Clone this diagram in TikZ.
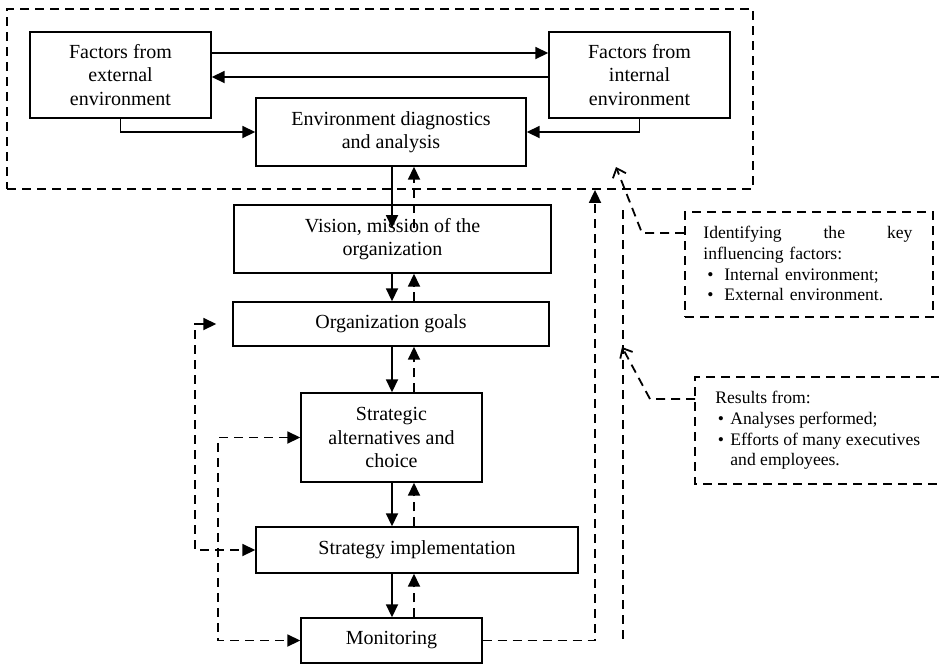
\documentclass[tikz,border=0pt]{standalone}
\usepackage{fontspec}
\setmainfont{Liberation Serif}
\usetikzlibrary{arrows.meta}
\begin{document}
\begin{tikzpicture}[x=0.5pt,y=-0.5pt,
 box/.style={draw,line width=0.7pt,align=center,inner sep=0pt,font=\fontsize{10}{11.75}\selectfont},
 sarr/.style={line width=0.9pt,-{Triangle[length=6.5pt,width=6pt]}},
 darr/.style={line width=0.9pt,dash pattern=on 4.5pt off 3pt,-{Triangle[length=6.5pt,width=6pt]}},
 dline/.style={line width=0.9pt,dash pattern=on 4.5pt off 3pt},
 barb/.style={dline,-{Straight Barb[length=4pt,width=7pt]}},
 note/.style={inner sep=0pt,anchor=north west,align=left,font=\fontsize{8.8}{10.35}\selectfont}]
\useasboundingbox (0,0) rectangle (939,665);

% outer dashed frame
\node[draw,dline,minimum width=373pt,minimum height=90pt,inner sep=0pt] (outer) at (380,99) {};

% main boxes
\node[box,minimum width=90.5pt,minimum height=43pt] (ext) at (120.5,75) {Factors from\\external\\environment};
\node[box,minimum width=90.5pt,minimum height=43pt] (int) at (639.5,75) {Factors from\\internal\\environment};
\node[box,minimum width=135pt,minimum height=34pt] (env) at (391,132) {Environment diagnostics\\and analysis};
\node[box,minimum width=158.5pt,minimum height=34pt] (vis) at (392.5,239) {Vision, mission of the\\organization};
\node[box,minimum width=158pt,minimum height=22pt] (goals) at (391,324) {Organization goals};
\node[box,minimum width=90.5pt,minimum height=44.5pt] (alt) at (391.5,437.5) {Strategic\\alternatives and\\choice};
\node[box,minimum width=161pt,minimum height=23pt] (impl) at (417,550) {Strategy implementation};
\node[box,minimum width=90.5pt,minimum height=22.5pt] (mon) at (391.5,640.5) {Monitoring};

% note boxes
\node[draw,dline,minimum width=124pt,minimum height=52.5pt,inner sep=0pt] (ident) at (809,264.5) {};
\node[note,text width=104.5pt] (identtxt) at (703,226)
 {\makebox[104.5pt]{Identifying\hfill the\hfill key}\\influencing factors:\\\makebox[10.5pt][l]{\hspace{2pt}\textbullet}Internal environment;\\\makebox[10.5pt][l]{\hspace{2pt}\textbullet}External environment.};
\draw[dline] (940,377) -- (695,377) -- (695,484) -- (940,484);
\coordinate (resw) at (695,399);
\node[note] (restxt) at (715,391)
 {Results from:\\\makebox[7.5pt][l]{\hspace{1.2pt}\textbullet}Analyses performed;\\\makebox[7.5pt][l]{\hspace{1.2pt}\textbullet}Efforts of many executives\\\hspace*{7.5pt}and employees.};

% top connectors
\draw[sarr] (ext.east |- 0,53) -- (int.west |- 0,53);
\draw[sarr] (int.west |- 0,77) -- (ext.east |- 0,77);
\draw[sarr] (ext.south) |- (env.west);
\draw[sarr] (int.south) |- (env.east);

% vertical chain
\coordinate (visin) at (392,228);
\coordinate (visin2) at (414,228);
\draw[sarr] (env.south -| visin) -- (visin);
\draw[darr] (visin2) -- (env.south -| visin2);
\draw[sarr] (vis.south -| visin) -- (goals.north -| visin);
\draw[darr] (goals.north -| visin2) -- (vis.south -| visin2);
\draw[sarr] (goals.south -| visin) -- (alt.north -| visin);
\draw[darr] (alt.north -| visin2) -- (goals.south -| visin2);
\draw[sarr] (alt.south -| visin) -- (impl.north -| visin);
\draw[darr] (impl.north -| visin2) -- (alt.south -| visin2);
\draw[sarr] (impl.south -| visin) -- (mon.north -| visin);
\draw[darr] (mon.north -| visin2) -- (impl.south -| visin2);

% left feedback loops
\coordinate (L1) at (195,0);
\coordinate (L2) at (218,0);
\draw[dline,{Triangle[length=6.5pt,width=6pt]}-{Triangle[length=6.5pt,width=6pt]},shorten <=8pt]
 (goals.west) -- (goals.west -| L1) -- (impl.west -| L1) -- (impl.west);
\draw[dline,{Triangle[length=6.5pt,width=6pt]}-{Triangle[length=6.5pt,width=6pt]}]
 (alt.west) -- (alt.west -| L2) -- (mon.west -| L2) -- (mon.west);

% right feedback
\coordinate (R1) at (595,0);
\draw[darr] (mon.east) -| (outer.south -| R1);
\coordinate (V1) at (623,210);
\coordinate (V2) at (623,640);
\draw[dline] (V1) -- (V2);

% note connectors
\coordinate (identtip) at (616,167);
\coordinate (restip) at (622,347);
\draw[barb] (ident.west |- 0,233) -- (642,233) -- (identtip);
\draw[barb] (resw) -- (650,399) -- (restip);
\end{tikzpicture}
\end{document}
